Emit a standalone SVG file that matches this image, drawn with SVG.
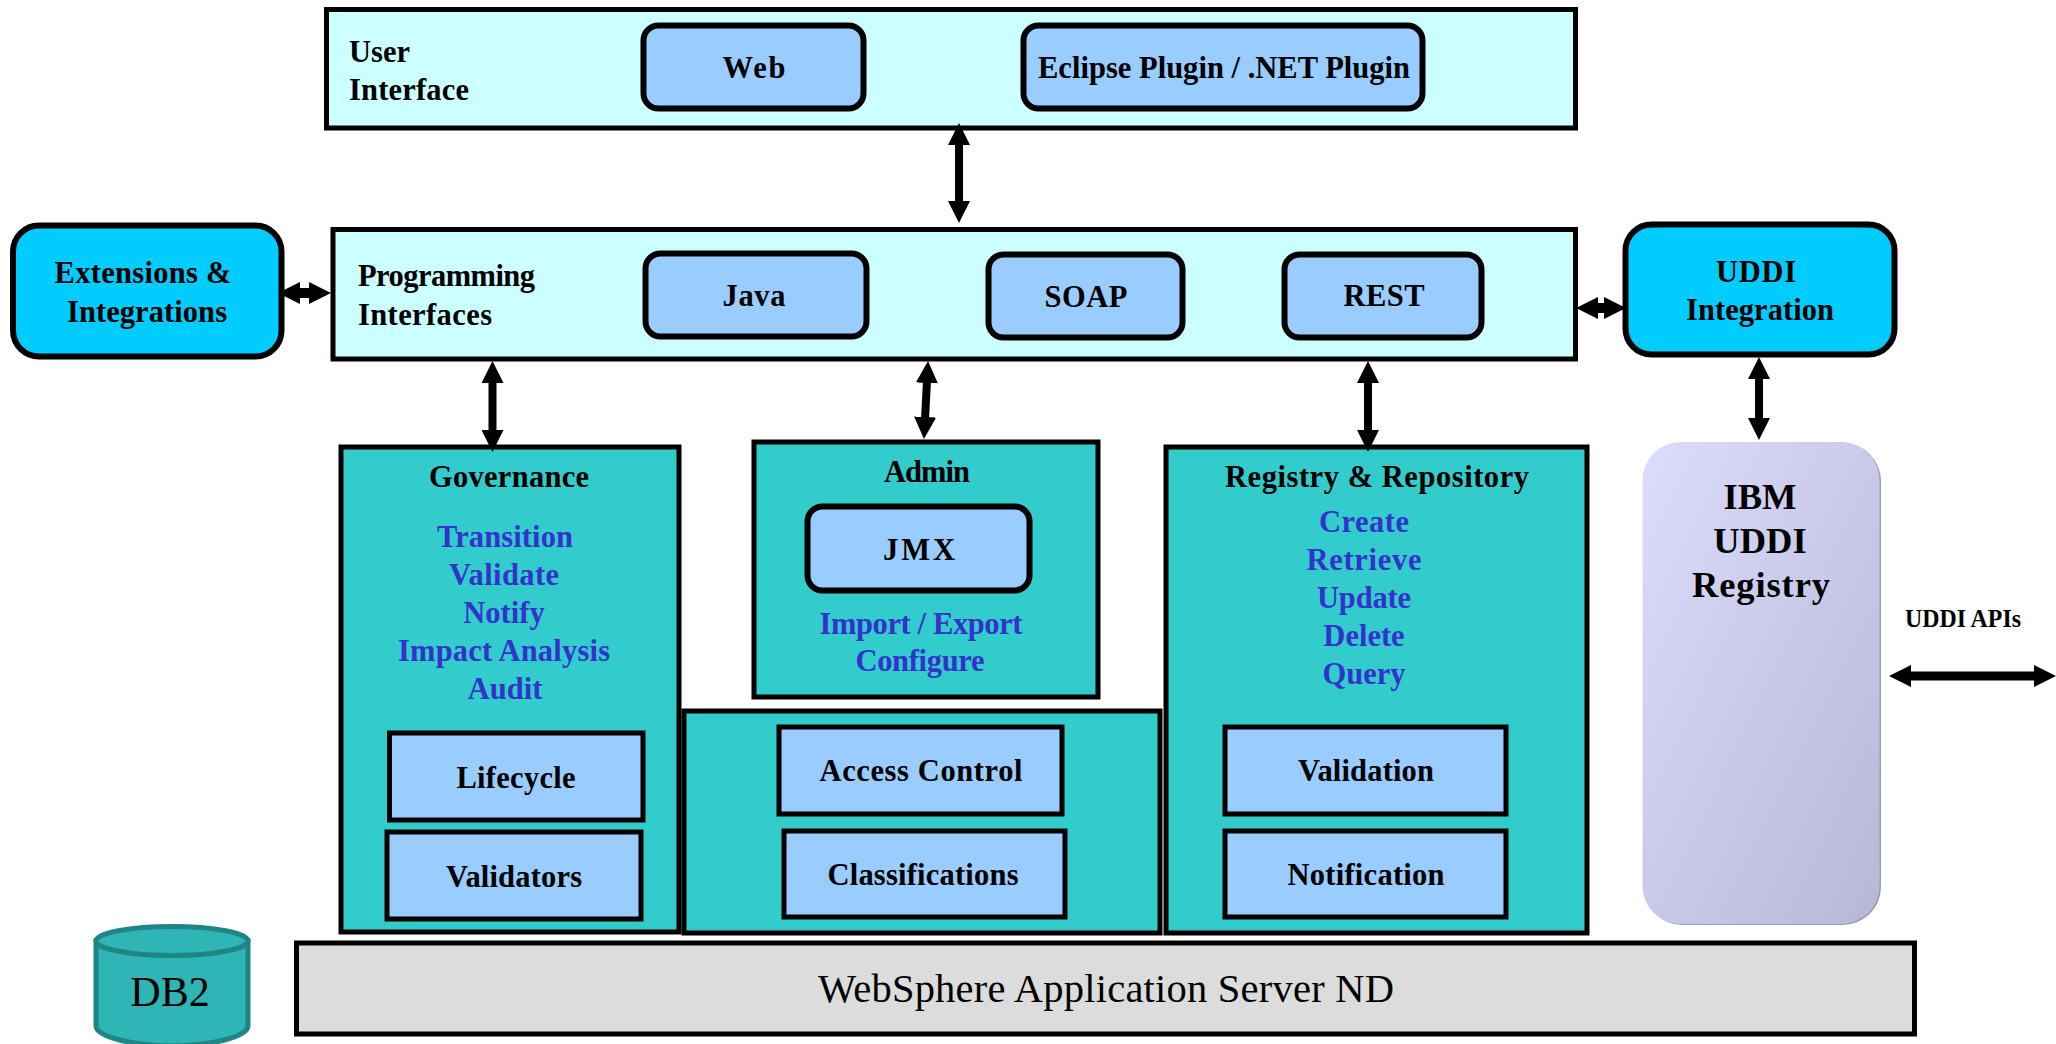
<svg xmlns="http://www.w3.org/2000/svg" width="2056" height="1044" viewBox="0 0 2056 1044">
<style>
text{font-family:"Liberation Serif","Times New Roman",serif;font-size:30.5px;font-weight:bold;fill:#000;text-anchor:middle}
.l{text-anchor:start}
.b{fill:#3333CC}
.big{font-size:36.5px}
.reg{font-weight:normal}
.pane{fill:#CCFFFF;stroke:#000;stroke-width:5}
.btn{fill:#99CCFF;stroke:#000;stroke-width:6}
.teal{fill:#33CCCC;stroke:#000;stroke-width:5}
.sq{fill:#99CCFF;stroke:#000;stroke-width:5}
.ext{fill:#00CCFF;stroke:#000;stroke-width:6}
.con{stroke:#000;stroke-width:8;fill:none;marker-start:url(#ah);marker-end:url(#ah)}
</style>
<defs>
<marker id="ah" viewBox="0 0 22 22" refX="2" refY="11" markerWidth="22" markerHeight="22" markerUnits="userSpaceOnUse" orient="auto-start-reverse"><path d="M0 0L22 11L0 22Z" fill="#000"/></marker>
<linearGradient id="reg" x1="0" y1="0" x2="1" y2="1"><stop offset="0" stop-color="#DCDCFC"/><stop offset="1" stop-color="#B6B8D6"/></linearGradient>
</defs>
<rect width="2056" height="1044" fill="#fff"/>
<g id="user-interface"><rect class="pane" x="326.500" y="9.500" width="1249" height="118.500"/><text class="l" x="349" y="62">User</text><text class="l" x="349" y="100" textLength="120">Interface</text></g>
<g id="web"><rect class="btn" x="643.500" y="25.500" width="220" height="83" rx="15"/><text x="754" y="78" textLength="63">Web</text></g>
<g id="eclipse"><rect class="btn" x="1023.500" y="25.500" width="399" height="83" rx="15"/><text x="1224" y="78" textLength="372">Eclipse Plugin / .NET Plugin</text></g>
<g id="programming-interfaces"><rect class="pane" x="333" y="229.500" width="1242.500" height="129.500"/><text class="l" x="358" y="286" textLength="177">Programming</text><text class="l" x="358" y="325" textLength="134">Interfaces</text></g>
<g id="java"><rect class="btn" x="645.500" y="253.500" width="221" height="83" rx="15"/><text x="754" y="306" textLength="63">Java</text></g>
<g id="soap"><rect class="btn" x="988.500" y="254.500" width="194" height="83" rx="15"/><text x="1086" y="307" textLength="83">SOAP</text></g>
<g id="rest"><rect class="btn" x="1284.500" y="254.500" width="197" height="83" rx="15"/><text x="1384" y="306" textLength="81">REST</text></g>
<g id="extensions"><rect class="ext" x="13" y="225.500" width="268.500" height="131" rx="26"/><text x="143" y="283" textLength="177">Extensions &amp;</text><text x="147" y="322" textLength="160">Integrations</text></g>
<g id="uddi-integration"><rect class="ext" x="1625.500" y="224.500" width="269" height="130" rx="26"/><text x="1756" y="282" textLength="80">UDDI</text><text x="1760" y="320" textLength="148">Integration</text></g>
<g id="governance"><rect class="teal" x="341" y="447" width="338" height="485"/><text x="509" y="487" textLength="160">Governance</text><text class="b" x="505" y="547" textLength="136">Transition</text><text class="b" x="504" y="585" textLength="110">Validate</text><text class="b" x="504" y="623">Notify</text><text class="b" x="504" y="661" textLength="212">Impact Analysis</text><text class="b" x="505" y="699">Audit</text></g>
<g id="lifecycle"><rect class="sq" x="389.500" y="733" width="253.500" height="87"/><text x="516" y="788" textLength="119">Lifecycle</text></g>
<g id="validators"><rect class="sq" x="387" y="832" width="254" height="87"/><text x="514" y="887" textLength="136">Validators</text></g>
<g id="admin"><rect class="teal" x="754" y="442" width="344" height="255"/><text x="927" y="482" textLength="86">Admin</text><text class="b" x="921" y="634" textLength="203">Import / Export</text><text class="b" x="920" y="671" textLength="129">Configure</text></g>
<g id="jmx"><rect class="btn" x="807.500" y="506.500" width="222" height="84" rx="15"/><text x="919" y="560" textLength="72">JMX</text></g>
<g id="security"><rect class="teal" x="684" y="711" width="476" height="222"/></g>
<g id="access-control"><rect class="sq" x="779" y="727" width="283" height="87"/><text x="921" y="781" textLength="203">Access Control</text></g>
<g id="classifications"><rect class="sq" x="784" y="831" width="281" height="86"/><text x="923" y="885" textLength="191">Classifications</text></g>
<g id="registry-repository"><rect class="teal" x="1166" y="447" width="421" height="486"/><text x="1377" y="487" textLength="304">Registry &amp; Repository</text><text class="b" x="1364" y="532" textLength="90">Create</text><text class="b" x="1364" y="570" textLength="115">Retrieve</text><text class="b" x="1364" y="608" textLength="94">Update</text><text class="b" x="1364" y="646">Delete</text><text class="b" x="1364" y="684">Query</text></g>
<g id="validation"><rect class="sq" x="1225" y="727" width="281" height="87"/><text x="1366" y="781" textLength="136">Validation</text></g>
<g id="notification"><rect class="sq" x="1225" y="831" width="281" height="86"/><text x="1366" y="885" textLength="157">Notification</text></g>
<g id="ibm-uddi-registry"><rect x="1644" y="443" width="237" height="482" rx="38" fill="#9C9CB8"/><rect x="1642.500" y="442" width="237" height="482" rx="38" fill="url(#reg)"/><text class="big" x="1760" y="509">IBM</text><text class="big" x="1760" y="553">UDDI</text><text class="big" x="1761" y="597" textLength="138">Registry</text></g>
<g id="uddi-apis"><text x="1963" y="627" style="font-size:25px" textLength="116" lengthAdjust="spacingAndGlyphs">UDDI APIs</text></g>
<g id="websphere"><rect x="296.500" y="943" width="1618" height="91" fill="#DCDCDC" stroke="#000" stroke-width="5"/><text class="reg" x="1106" y="1002" style="font-size:40.5px" textLength="576">WebSphere Application Server ND</text></g>
<g id="db2"><path d="M96 941V1026C96 1036 131 1046 172 1046C213 1046 248 1036 248 1026V941Z" fill="#2FB5B5" stroke="#1F8585" stroke-width="5"/><ellipse cx="172" cy="941" rx="76" ry="14.500" fill="#2FB5B5" stroke="#1F8585" stroke-width="5"/><text class="reg" x="170" y="1006" style="font-size:42px">DB2</text></g>
<g id="connectors">
<line class="con" x1="959" y1="143" x2="959" y2="203"/>
<line class="con" x1="492.500" y1="381" x2="492.500" y2="432"/>
<line class="con" x1="927" y1="381" x2="925" y2="419"/>
<line class="con" x1="1368" y1="381" x2="1368" y2="432"/>
<line class="con" x1="1759" y1="377" x2="1759" y2="420"/>
<line class="con" x1="298" y1="293" x2="311" y2="293" style="stroke-width:10"/>
<line class="con" x1="1596" y1="308" x2="1606" y2="308" style="stroke-width:10"/>
<line class="con" x1="1909" y1="676" x2="2036" y2="676" style="stroke-width:9"/>
</g>
</svg>
